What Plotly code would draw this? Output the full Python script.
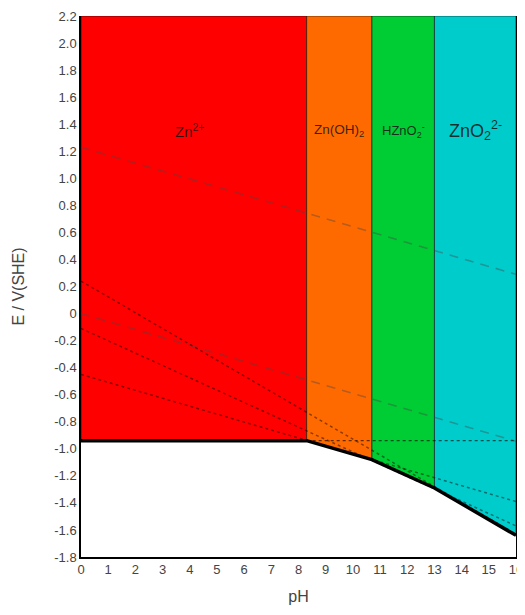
import plotly.graph_objects as go

# ---- data ----
# region boundaries (pH) and the Zn stability line (bold) at those pH
boundary_ph = [0, 8.3, 10.7, 13.0, 16]
bold_E = [-0.94, -0.94, -1.08, -1.29, -1.64]
E_top = 2.2

region_names = ["Zn<sup>2+</sup>", "Zn(OH)<sub>2</sub>", "HZnO<sub>2</sub><sup>-</sup>", "ZnO<sub>2</sub><sup>2-</sup>"]
region_colors = ["#ff0000", "#ff6a00", "#00cc33", "#00cccc"]
label_ph = [4.0, 9.5, 11.85, 14.5]
label_E = [1.35, 1.35, 1.35, 1.35]
label_sizes = [15, 13.5, 13, 18]

# water lines (dashed)
line_ph = [0, 16]
O2_E = [1.23, 0.29]
H2_E = [0.0, -0.944]

# metastable extensions (dotted)
ZnOH2_E = [-0.45, -1.39]
HZnO2_E = [-0.11, -1.57]
ZnO2_E = [0.24, -1.63]
zn2_ph = [8.3, 16]
zn2_E = [-0.94, -0.94]

y_ticks = [2.2, 2.0, 1.8, 1.6, 1.4, 1.2, 1.0, 0.8, 0.6, 0.4, 0.2, 0, -0.2, -0.4, -0.6, -0.8, -1.0, -1.2, -1.4, -1.6, -1.8]
y_ticktext = ["2.2", "2.0", "1.8", "1.6", "1.4", "1.2", "1.0", "0.8", "0.6", "0.4", "0.2", "0", "-0.2", "-0.4", "-0.6", "-0.8", "-1.0", "-1.2", "-1.4", "-1.6", "-1.8"]
x_ticks = list(range(0, 17))

fig = go.Figure()

# filled regions
for i in range(4):
    x0, x1 = boundary_ph[i], boundary_ph[i + 1]
    e0, e1 = bold_E[i], bold_E[i + 1]
    fig.add_trace(go.Scatter(
        x=[x0, x1, x1, x0, x0], y=[E_top, E_top, e1, e0, E_top],
        fill="toself", fillcolor=region_colors[i], mode="lines",
        line=dict(color="rgba(0,0,0,0.55)", width=1), hoverinfo="skip", showlegend=False))

dash_style = dict(color="rgba(70,70,70,0.4)", width=1.6, dash="9px,7px")
dot_style = dict(color="rgba(0,0,0,0.45)", width=1.5, dash="dot")

fig.add_trace(go.Scatter(x=line_ph, y=O2_E, mode="lines", line=dash_style, showlegend=False))
fig.add_trace(go.Scatter(x=line_ph, y=H2_E, mode="lines", line=dash_style, showlegend=False))
for ys in (ZnOH2_E, HZnO2_E, ZnO2_E):
    fig.add_trace(go.Scatter(x=line_ph, y=ys, mode="lines", line=dot_style, showlegend=False))
fig.add_trace(go.Scatter(x=zn2_ph, y=zn2_E, mode="lines",
                         line=dict(color="rgba(0,0,0,0.6)", width=1.2, dash="3px,3px"), showlegend=False))

# bold Zn boundary
fig.add_trace(go.Scatter(x=boundary_ph, y=bold_E, mode="lines",
                         line=dict(color="black", width=3.5), showlegend=False))

for name, xp, yp, fs in zip(region_names, label_ph, label_E, label_sizes):
    fig.add_annotation(x=xp, y=yp, text=name, showarrow=False,
                       font=dict(size=fs, color="rgba(20,20,20,0.85)", family="Arial, Liberation Sans"))

# page body adds an 8px margin, so the figure is sized/offset to compensate
fig.update_layout(
    width=517, height=607,
    margin=dict(l=73, r=9, t=8, b=58),
    paper_bgcolor="white", plot_bgcolor="white",
    font=dict(family="Arial, Liberation Sans", size=13, color="#444"),
    xaxis=dict(range=[0, 16], tickvals=x_ticks, showgrid=False, zeroline=False, automargin=False,
               showline=True, linecolor="black", linewidth=1.5, mirror=False,
               ticks="", title=dict(text="pH", font=dict(size=16, color="#444"), standoff=14),
               tickfont=dict(size=13, color="#444")),
    yaxis=dict(range=[-1.8, 2.2], tickvals=y_ticks, ticktext=y_ticktext, showgrid=False, automargin=False,
               zeroline=False, showline=True, linecolor="black", linewidth=1.5, mirror=True,
               ticks="", title=dict(text="E / V(SHE)", font=dict(size=16, color="#444"), standoff=26),
               tickfont=dict(size=13, color="#444")),
)

fig.write_html("out.html")
